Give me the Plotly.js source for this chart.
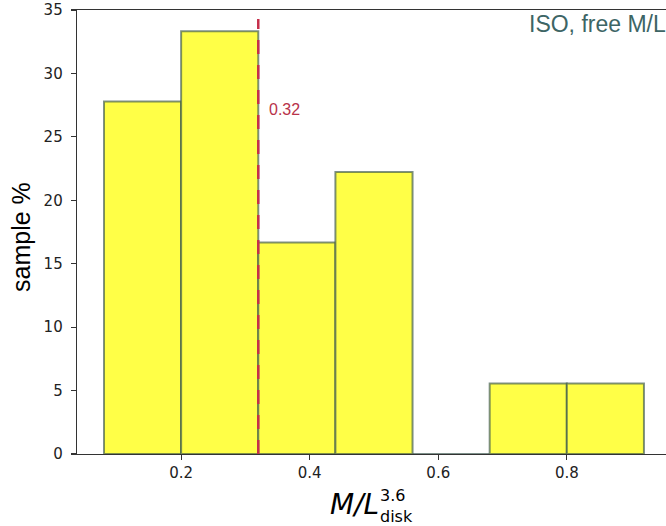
<!DOCTYPE html>
<html>
<head>
<meta charset="utf-8">
<script src="https://cdn.plot.ly/plotly-3.0.1.min.js"></script>
<style>html,body{margin:0;padding:0;background:#fff}#chart{width:666px;height:526px}</style>
</head>
<body>
<div id="chart"></div>
<script>
// Histogram bin edges (M/L disk at 3.6 micron)
var binEdges = [0.08, 0.20, 0.32, 0.44, 0.56, 0.68, 0.80, 0.92];
// Sample percentage in each bin
var samplePct = [27.78, 33.33, 16.67, 22.22, 0.0, 5.56, 5.56];
// Median marker
var medianValue = 0.32;
var medianLabel = "0.32";
var cornerLabel = "ISO, free M/L";
var xTickVals = [0.2, 0.4, 0.6, 0.8];
var xTickText = ["0.2", "0.4", "0.6", "0.8"];
var yTickVals = [0, 5, 10, 15, 20, 25, 30, 35];

var centers = [], widths = [];
for (var i = 0; i < samplePct.length; i++) {
  centers.push((binEdges[i] + binEdges[i + 1]) / 2);
  widths.push(binEdges[i + 1] - binEdges[i]);
}

var bars = {
  type: 'bar',
  x: centers,
  y: samplePct,
  width: widths,
  marker: {color: '#ffff47', line: {color: 'rgba(55,85,75,0.65)', width: 2}},
  hoverinfo: 'x+y'
};
var medianLine = {
  type: 'scatter', mode: 'lines',
  x: [medianValue, medianValue],
  y: [0, 34.3],
  line: {color: '#c62f4b', width: 2.5, dash: '14px,11px'},
  hoverinfo: 'skip'
};

var W = 666, L = 77, R = 0, T = 10, B = 72;
var plotH = 526 - T - B, plotW = W - L - R;
function px(x) { return (x - L) / plotW; }
function py(y) { return (526 - B - y) / plotH; }

var layout = {
  width: 666, height: 526,
  margin: {l: L, r: R, t: T, b: B, pad: 0},
  paper_bgcolor: '#fff', plot_bgcolor: '#fff',
  showlegend: false,
  bargap: 0,
  font: {family: 'DejaVu Sans', size: 15, color: '#222'},
  xaxis: {
    range: [0.038, 0.9543],
    tickvals: xTickVals, ticktext: xTickText,
    ticks: 'outside', ticklen: 5, tickwidth: 1.2, tickcolor: '#333',
    showline: true, linecolor: '#333', linewidth: 1.3, mirror: true,
    showgrid: false, zeroline: false,
    tickfont: {family: 'DejaVu Sans', size: 15, color: '#222'}
  },
  yaxis: {
    range: [0, 35],
    tickvals: yTickVals,
    ticks: 'outside', ticklen: 5, tickwidth: 1.2, tickcolor: '#333',
    ticklabelstandoff: 5,
    showline: true, linecolor: '#333', linewidth: 1.3,
    showgrid: false, zeroline: false,
    tickfont: {family: 'DejaVu Sans', size: 15, color: '#222'}
  },
  annotations: [
    {xref: 'x', yref: 'y', x: 0.334, y: 27.15, text: medianLabel, showarrow: false,
     xanchor: 'left', yanchor: 'middle', font: {family: 'Liberation Sans', size: 16, color: '#b8324a'}},
    {xref: 'paper', yref: 'paper', x: 1.004, y: py(24), text: cornerLabel, showarrow: false,
     xanchor: 'right', yanchor: 'middle', font: {family: 'Liberation Sans', size: 23, color: '#3d6565'}},
    {xref: 'paper', yref: 'paper', x: px(21), y: py(237), text: 'sample %', showarrow: false,
     textangle: -90, xanchor: 'center', yanchor: 'middle', font: {family: 'Liberation Sans', size: 25, color: '#000'}},
    {xref: 'paper', yref: 'paper', x: px(354), y: py(504), text: '<i>M/L</i>', showarrow: false,
     xanchor: 'center', yanchor: 'middle', font: {family: 'DejaVu Sans', size: 28, color: '#000'}},
    {xref: 'paper', yref: 'paper', x: px(379), y: py(506), text: '3.6', showarrow: false, borderpad: 0,
     xanchor: 'left', yanchor: 'bottom', font: {family: 'DejaVu Sans', size: 16, color: '#000'}},
    {xref: 'paper', yref: 'paper', x: px(379), y: py(506), text: 'disk', showarrow: false, borderpad: 0,
     xanchor: 'left', yanchor: 'top', font: {family: 'DejaVu Sans', size: 16, color: '#000'}}
  ]
};

Plotly.newPlot('chart', [bars, medianLine], layout, {staticPlot: true, displayModeBar: false});
</script>
</body>
</html>
